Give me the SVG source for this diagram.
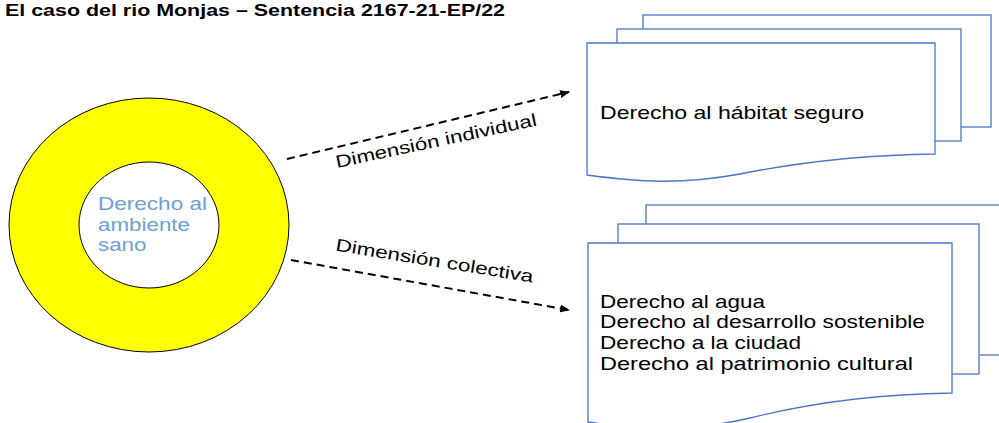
<svg xmlns="http://www.w3.org/2000/svg" width="999" height="423" viewBox="0 0 999 423">
<defs>
<style>
.t{font-family:"Liberation Sans",Arial,sans-serif;fill:#000}
.doc{fill:#fff;stroke:#4a76c8;stroke-width:1.3}
.con{fill:none;stroke:#000;stroke-width:2;stroke-dasharray:8 5}
</style>
<marker id="ah" markerWidth="10" markerHeight="8" refX="9" refY="4" orient="auto" markerUnits="userSpaceOnUse">
<path d="M0,0 L10,4 L0,8 Z" fill="#000"/>
</marker>
</defs>
<rect width="999" height="423" fill="#fff"/>
<text class="t" x="5" y="16" font-size="17" font-weight="bold" textLength="500" lengthAdjust="spacingAndGlyphs">El caso del rio Monjas – Sentencia 2167-21-EP/22</text>

<g id="ambiente">
<ellipse cx="149" cy="225" rx="140" ry="127" fill="#ffff00" stroke="#000" stroke-width="1"/>
<ellipse cx="149" cy="225" rx="70" ry="63" fill="#fff" stroke="#000" stroke-width="1"/>
<g font-family="Liberation Sans, Arial, sans-serif" font-size="17.5" fill="#6d9fd5">
<text x="98" y="210" textLength="109" lengthAdjust="spacingAndGlyphs">Derecho al</text>
<text x="98" y="230.5" textLength="92" lengthAdjust="spacingAndGlyphs">ambiente</text>
<text x="98" y="250.5" textLength="48.5" lengthAdjust="spacingAndGlyphs">sano</text>
</g>
</g>

<g id="individual">
<rect class="doc" x="643" y="15" width="348" height="112"/>
<rect class="doc" x="617" y="29" width="344" height="112"/>
<path class="doc" d="M587,43 H935 V154 C860,155 800,162 740,174 C680,185 640,182 587,175 Z"/>
<text class="t" x="600" y="119" font-size="18.5" textLength="264" lengthAdjust="spacingAndGlyphs">Derecho al hábitat seguro</text>
</g>

<g id="colectiva">
<rect class="doc" x="646" y="205" width="370" height="150"/>
<rect class="doc" x="618" y="224" width="361" height="150"/>
<path class="doc" d="M588,243 H952 V393 C877,394 810,403 750,418 C690,432 640,430 588,422 Z"/>
<g class="t" font-size="18.5">
<text x="600" y="307.5" textLength="165" lengthAdjust="spacingAndGlyphs">Derecho al agua</text>
<text x="600" y="328.3" textLength="325" lengthAdjust="spacingAndGlyphs">Derecho al desarrollo sostenible</text>
<text x="600" y="349" textLength="201" lengthAdjust="spacingAndGlyphs">Derecho a la ciudad</text>
<text x="600" y="369.5" textLength="313" lengthAdjust="spacingAndGlyphs">Derecho al patrimonio cultural</text>
</g>
</g>

<g id="connectors">
<line class="con" x1="287" y1="159" x2="569" y2="92" marker-end="url(#ah)"/>
<line class="con" x1="291" y1="260" x2="569" y2="310" marker-end="url(#ah)"/>
<text class="t" font-size="17.5" transform="translate(337,168) rotate(-12)" textLength="205" lengthAdjust="spacingAndGlyphs">Dimensión individual</text>
<text class="t" font-size="17.5" transform="translate(335,250.5) rotate(9.2)" textLength="200" lengthAdjust="spacingAndGlyphs">Dimensión colectiva</text>
</g>
</svg>
